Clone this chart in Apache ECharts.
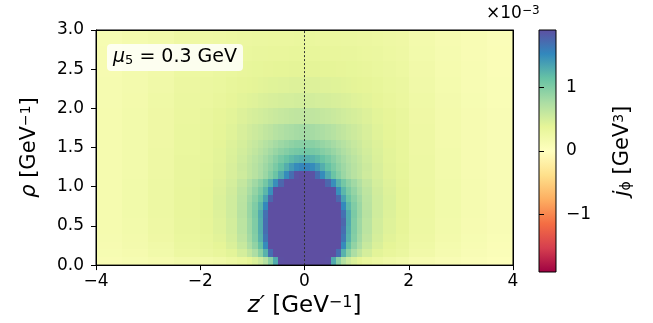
<!DOCTYPE html>
<html>
<head>
<meta charset="utf-8">
<script src="https://cdn.jsdelivr.net/npm/echarts@6/dist/echarts.min.js"></script>
<style>html,body{margin:0;padding:0;background:#fff;}#c{width:653px;height:323px;}</style>
</head>
<body>
<div id="c"></div>
<script>
// cell edges (z' and rho, GeV^-1)
const zEdges = [-4,-3.5,-3,-2.5,-2,-1.75,-1.5,-1.3,-1.1,-1.0,-0.9,-0.8,-0.7,-0.6,-0.5,-0.4,-0.3,-0.2,-0.1,0,
  0.1,0.2,0.3,0.4,0.5,0.6,0.7,0.8,0.9,1.0,1.1,1.3,1.5,1.75,2,2.5,3,3.5,4];
const rhoEdges = [0,0.1,0.2,0.3,0.4,0.5,0.6,0.7,0.8,0.9,1.0,1.1,1.2,1.3,1.4,1.5,1.6,1.8,2.0,2.2,2.4,2.6,2.8,3.0];
// j_phi in units of 1e-3 GeV^3, rows from rho=0 upward, columns from z'=-4 to 4
const jphi = [
[0.11,0.13,0.16,0.2,0.2,0.23,0.27,0.32,0.38,0.45,0.55,0.7,0.95,1.3,1.9,2.4,2.4,2.4,2.4, 2.4,2.4,2.4,2.4,1.9,1.3,0.95,0.7,0.55,0.45,0.38,0.32,0.27,0.23,0.2,0.14,0.1,0.07,0.05],
[0.13,0.16,0.21,0.28,0.3,0.34,0.4,0.5,0.62,0.75,0.95,1.25,1.7,2.4,2.4,2.4,2.4,2.4,2.4, 2.4,2.4,2.4,2.4,2.4,2.4,1.7,1.25,0.95,0.75,0.62,0.5,0.4,0.34,0.3,0.22,0.15,0.1,0.07],
[0.14,0.18,0.23,0.3,0.33,0.38,0.46,0.58,0.75,0.9,1.15,1.5,2.1,2.4,2.4,2.4,2.4,2.4,2.4, 2.4,2.4,2.4,2.4,2.4,2.4,2.1,1.5,1.15,0.9,0.75,0.58,0.46,0.38,0.33,0.24,0.17,0.12,0.08],
[0.15,0.19,0.25,0.32,0.35,0.41,0.49,0.63,0.8,0.98,1.25,1.65,2.4,2.4,2.4,2.4,2.4,2.4,2.4, 2.4,2.4,2.4,2.4,2.4,2.4,2.4,1.65,1.25,0.98,0.8,0.63,0.49,0.41,0.35,0.26,0.19,0.13,0.09],
[0.16,0.2,0.26,0.33,0.37,0.43,0.51,0.66,0.83,1.0,1.28,1.7,2.4,2.4,2.4,2.4,2.4,2.4,2.4, 2.4,2.4,2.4,2.4,2.4,2.4,2.4,1.7,1.28,1.0,0.83,0.66,0.51,0.43,0.37,0.27,0.2,0.14,0.1],
[0.16,0.2,0.26,0.33,0.37,0.43,0.51,0.66,0.83,1.0,1.28,1.7,2.4,2.4,2.4,2.4,2.4,2.4,2.4, 2.4,2.4,2.4,2.4,2.4,2.4,2.4,1.75,1.3,1.0,0.83,0.66,0.51,0.43,0.37,0.27,0.2,0.14,0.1],
[0.16,0.21,0.27,0.34,0.38,0.44,0.53,0.68,0.86,1.03,1.3,1.68,2.4,2.4,2.4,2.4,2.4,2.4,2.4, 2.4,2.4,2.4,2.4,2.4,2.4,2.4,1.68,1.3,1.03,0.86,0.68,0.53,0.44,0.38,0.28,0.21,0.15,0.1],
[0.16,0.21,0.27,0.34,0.38,0.45,0.53,0.67,0.85,1.0,1.22,1.52,2.1,2.4,2.4,2.4,2.4,2.4,2.4, 2.4,2.4,2.4,2.4,2.4,2.4,2.1,1.52,1.22,1.0,0.85,0.67,0.53,0.45,0.38,0.28,0.21,0.15,0.1],
[0.16,0.21,0.27,0.34,0.38,0.45,0.53,0.66,0.82,0.95,1.12,1.36,1.75,2.4,2.4,2.4,2.4,2.4,2.4, 2.4,2.4,2.4,2.4,2.4,2.4,1.75,1.36,1.12,0.95,0.82,0.66,0.53,0.45,0.38,0.28,0.21,0.15,0.1],
[0.16,0.21,0.27,0.34,0.38,0.44,0.52,0.64,0.77,0.89,1.03,1.22,1.48,1.9,2.4,2.4,2.4,2.4,2.4, 2.4,2.4,2.4,2.4,2.4,1.9,1.48,1.22,1.03,0.89,0.77,0.64,0.52,0.44,0.38,0.28,0.21,0.15,0.1],
[0.16,0.21,0.27,0.33,0.37,0.43,0.5,0.6,0.72,0.82,0.93,1.07,1.25,1.48,1.75,2.0,2.4,2.4,2.4, 2.4,2.4,2.4,2.0,1.75,1.48,1.25,1.07,0.93,0.82,0.72,0.6,0.5,0.43,0.37,0.27,0.21,0.15,0.1],
[0.16,0.2,0.26,0.33,0.36,0.41,0.47,0.54,0.62,0.68,0.76,0.85,0.98,1.12,1.3,1.5,1.7,1.88,2.0, 2.0,1.88,1.7,1.5,1.3,1.12,0.98,0.85,0.76,0.68,0.62,0.54,0.47,0.41,0.36,0.27,0.2,0.14,0.1],
[0.16,0.2,0.26,0.33,0.36,0.41,0.47,0.55,0.62,0.68,0.75,0.83,0.92,1.03,1.15,1.28,1.4,1.5,1.55, 1.55,1.5,1.4,1.28,1.15,1.03,0.92,0.83,0.75,0.68,0.62,0.55,0.47,0.41,0.36,0.27,0.2,0.14,0.1],
[0.16,0.2,0.26,0.33,0.35,0.4,0.46,0.53,0.6,0.66,0.72,0.79,0.87,0.96,1.05,1.13,1.2,1.25,1.28, 1.28,1.25,1.2,1.13,1.05,0.96,0.87,0.79,0.72,0.66,0.6,0.53,0.46,0.4,0.35,0.27,0.2,0.14,0.1],
[0.16,0.2,0.26,0.32,0.35,0.4,0.45,0.51,0.57,0.62,0.68,0.74,0.8,0.87,0.93,0.98,1.03,1.06,1.08, 1.08,1.06,1.03,0.98,0.93,0.87,0.8,0.74,0.68,0.62,0.57,0.51,0.45,0.4,0.35,0.26,0.2,0.14,0.1],
[0.16,0.2,0.25,0.32,0.35,0.39,0.44,0.49,0.55,0.59,0.64,0.69,0.74,0.79,0.84,0.88,0.92,0.95,0.96, 0.96,0.95,0.92,0.88,0.84,0.79,0.74,0.69,0.64,0.59,0.55,0.49,0.44,0.39,0.35,0.26,0.19,0.14,0.1],
[0.16,0.2,0.25,0.32,0.34,0.38,0.42,0.47,0.52,0.55,0.58,0.62,0.65,0.69,0.72,0.75,0.77,0.79,0.8, 0.8,0.79,0.77,0.75,0.72,0.69,0.65,0.62,0.58,0.55,0.52,0.47,0.42,0.38,0.34,0.26,0.19,0.14,0.1],
[0.16,0.2,0.25,0.31,0.33,0.37,0.4,0.44,0.47,0.49,0.51,0.53,0.55,0.57,0.59,0.6,0.62,0.63,0.63, 0.63,0.63,0.62,0.6,0.59,0.57,0.55,0.53,0.51,0.49,0.47,0.44,0.4,0.37,0.33,0.25,0.19,0.14,0.1],
[0.15,0.19,0.24,0.3,0.31,0.34,0.37,0.4,0.42,0.43,0.45,0.46,0.47,0.48,0.49,0.5,0.5,0.51,0.51, 0.51,0.51,0.5,0.5,0.49,0.48,0.47,0.46,0.45,0.43,0.42,0.4,0.37,0.34,0.31,0.24,0.18,0.13,0.09],
[0.15,0.18,0.23,0.29,0.3,0.32,0.35,0.37,0.38,0.39,0.4,0.41,0.42,0.42,0.43,0.43,0.44,0.44,0.44, 0.44,0.44,0.44,0.43,0.43,0.42,0.42,0.41,0.4,0.39,0.38,0.37,0.35,0.32,0.3,0.23,0.17,0.12,0.09],
[0.14,0.18,0.22,0.28,0.28,0.3,0.32,0.34,0.35,0.36,0.36,0.37,0.37,0.38,0.38,0.38,0.39,0.39,0.39, 0.39,0.39,0.39,0.38,0.38,0.38,0.37,0.37,0.36,0.36,0.35,0.34,0.32,0.3,0.28,0.22,0.16,0.12,0.08],
[0.14,0.17,0.21,0.26,0.26,0.28,0.3,0.31,0.32,0.33,0.33,0.33,0.34,0.34,0.34,0.34,0.35,0.35,0.35, 0.35,0.35,0.35,0.34,0.34,0.34,0.34,0.33,0.33,0.33,0.32,0.31,0.3,0.28,0.26,0.2,0.15,0.11,0.08],
[0.13,0.17,0.2,0.25,0.25,0.26,0.28,0.29,0.29,0.3,0.3,0.3,0.31,0.31,0.31,0.31,0.31,0.32,0.32, 0.32,0.32,0.31,0.31,0.31,0.31,0.31,0.3,0.3,0.3,0.29,0.29,0.28,0.26,0.25,0.19,0.14,0.11,0.07]
];
const xTicks = [-4,-2,0,2,4];
const yTicks = [0,0.5,1.0,1.5,2.0,2.5,3.0];
const cbarTicks = [-1,0,1];
const vmin = -1.91, vmax = 1.91;
const spectral = ['#9e0142','#d53e4f','#f46d43','#fdae61','#fee08b','#ffffbf','#e6f598','#abdda4','#66c2a5','#3288bd','#5e4fa2'];

const FONT = 'DejaVu Sans';
const minus = v => (v < 0 ? '\u2212' + Math.abs(v) : String(v));

const cells = [];
for (let r = 0; r < jphi.length; r++) {
  for (let c = 0; c < jphi[r].length; c++) {
    cells.push([zEdges[c], zEdges[c + 1], rhoEdges[r], rhoEdges[r + 1], jphi[r][c]]);
  }
}

const stops = spectral.map((col, i) => ({ offset: 1 - i / (spectral.length - 1), color: col }));

const chart = echarts.init(document.getElementById('c'), null, { renderer: 'canvas' });
const nameStyle = (fs) => ({
  fontSize: fs, fontFamily: FONT, color: '#000',
  rich: {
    it: { fontSize: fs, fontFamily: FONT, fontStyle: 'italic', color: '#000' },
    sup: { fontSize: Math.round(fs * 0.68), fontFamily: FONT, color: '#000', verticalAlign: 'top' },
    sub: { fontSize: Math.round(fs * 0.68), fontFamily: FONT, color: '#000', verticalAlign: 'bottom' }
  }
});
const lineBlack = { color: '#000', width: 1 };

chart.setOption({
  animation: false,
  backgroundColor: '#fff',
  title: [
    {
      text: '{it|μ}{sub|5} = 0.3 GeV', left: 107, top: 44, padding: [4, 6, 4, 6],
      backgroundColor: 'rgba(255,255,255,0.82)', borderRadius: 4,
      textStyle: Object.assign({ fontWeight: 'normal' }, nameStyle(19))
    },
    {
      text: '×10{sup|−3}', left: 486, top: 5, padding: 0,
      textStyle: Object.assign({ fontWeight: 'normal' }, nameStyle(17))
    }
  ],
  grid: [
    { left: 96, top: 30, width: 417, height: 242, containLabel: false, show: true, z: 10,
      backgroundColor: 'transparent', borderColor: '#000', borderWidth: 1 },
    {
      left: 539, top: 30, width: 17, height: 242, show: true, borderColor: '#000', borderWidth: 1,
      backgroundColor: { type: 'linear', x: 0, y: 0, x2: 0, y2: 1, colorStops: stops }
    }
  ],
  visualMap: {
    show: false, type: 'continuous', min: vmin, max: vmax, dimension: 4, seriesIndex: 0,
    inRange: { color: spectral }
  },
  xAxis: [
    {
      gridIndex: 0, type: 'value', min: -4, max: 4, interval: 2, position: 'bottom', z: 10,
      axisLine: { show: true, onZero: false, lineStyle: lineBlack },
      axisTick: { show: true, length: 5, lineStyle: lineBlack },
      axisLabel: { fontSize: 17, fontFamily: FONT, color: '#000', margin: 8, formatter: minus, customValues: xTicks },
      splitLine: { show: false },
      name: '{it|z′} [GeV{sup|−1}]', nameLocation: 'middle', nameGap: 26, nameTextStyle: nameStyle(23)
    },
    {
      gridIndex: 0, type: 'value', min: -4, max: 4, position: 'top', z: 10,
      axisLine: { show: true, onZero: false, lineStyle: lineBlack },
      axisTick: { show: false }, axisLabel: { show: false }, splitLine: { show: false }
    },
    { gridIndex: 1, type: 'value', min: 0, max: 1, show: false }
  ],
  yAxis: [
    {
      gridIndex: 0, type: 'value', min: 0, max: 3, interval: 0.5, position: 'left', z: 10,
      axisLine: { show: true, onZero: false, lineStyle: lineBlack },
      axisTick: { show: true, length: 5, lineStyle: lineBlack },
      axisLabel: { fontSize: 17, fontFamily: FONT, color: '#000', margin: 12, formatter: v => v.toFixed(1), customValues: yTicks },
      splitLine: { show: false },
      name: '{it|ρ} [GeV{sup|−1}]', nameLocation: 'middle', nameGap: 56, nameRotate: 90, nameTextStyle: nameStyle(21)
    },
    {
      gridIndex: 0, type: 'value', min: 0, max: 3, position: 'right', z: 10,
      axisLine: { show: true, onZero: false, lineStyle: lineBlack },
      axisTick: { show: false }, axisLabel: { show: false }, splitLine: { show: false }
    },
    {
      gridIndex: 1, type: 'value', min: vmin, max: vmax, position: 'right',
      axisLine: { show: false },
      axisTick: { show: true, length: 5, lineStyle: lineBlack, customValues: cbarTicks },
      axisLabel: { fontSize: 17, fontFamily: FONT, color: '#000', margin: 10, formatter: minus, customValues: cbarTicks },
      splitLine: { show: false },
      name: '{it|j}{sub|ϕ} [GeV{sup|3}]', nameLocation: 'middle', nameGap: 56, nameRotate: 90, nameTextStyle: nameStyle(21)
    }
  ],
  series: [
    {
      type: 'custom', xAxisIndex: 0, yAxisIndex: 0, data: cells, z: 1,
      encode: { x: [0, 1], y: [2, 3] },
      renderItem: function (params, api) {
        const p0 = api.coord([api.value(0), api.value(3)]);
        const p1 = api.coord([api.value(1), api.value(2)]);
        const x0 = Math.round(p0[0]), y0 = Math.round(p0[1]);
        const x1 = Math.round(p1[0]), y1 = Math.round(p1[1]);
        return {
          type: 'rect',
          shape: { x: x0, y: y0, width: x1 - x0, height: y1 - y0 },
          style: { fill: api.visual('color') }
        };
      },
      markLine: {
        silent: true, symbol: ['none', 'none'], animation: false,
        label: { show: false },
        lineStyle: { color: '#333', type: [2, 2], width: 1 },
        data: [{ xAxis: 0 }]
      }
    }
  ]
});
</script>
</body>
</html>
